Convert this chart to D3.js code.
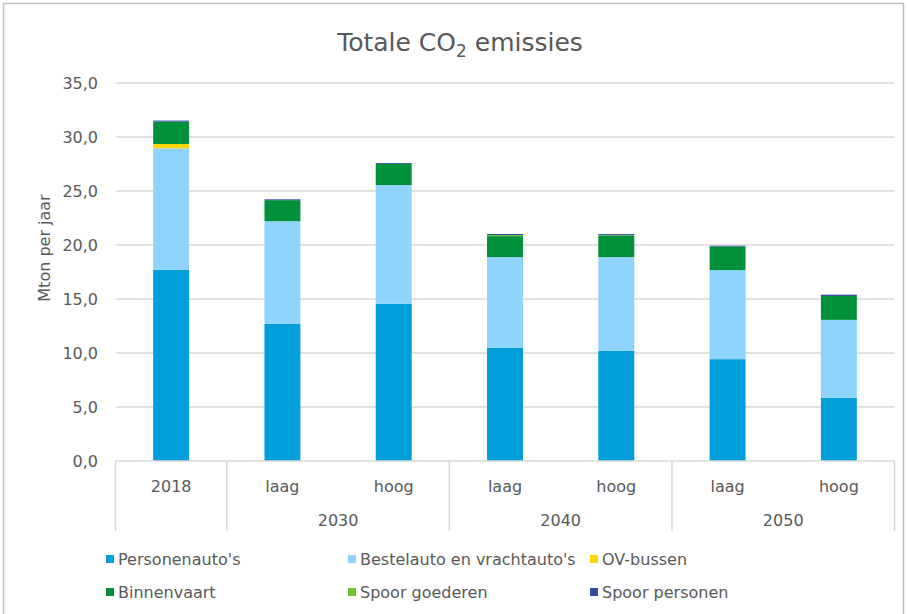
<!DOCTYPE html>
<html><head><meta charset="utf-8">
<script src="https://cdn.jsdelivr.net/npm/d3@7"></script>
<style>body{margin:0;background:#fff}svg{display:block}text{font-family:"DejaVu Sans",sans-serif;fill:#595959}</style>
</head><body>
<svg id="c" width="907" height="614"></svg>
<script>
const categories = ["2018","laag","hoog","laag","hoog","laag","hoog"];
const groups = [{label:"", from:0, to:0},{label:"2030", from:1, to:2},{label:"2040", from:3, to:4},{label:"2050", from:5, to:6}];
const seriesNames = ["Personenauto's","Bestelauto en vrachtauto's","OV-bussen","Binnenvaart","Spoor goederen","Spoor personen"];
const colors = ["#009FDA","#8FD3FF","#FFD700","#00913A","#6CC630","#2F4B9B"];
const personen = [17.7, 12.7, 14.55, 10.48, 10.2, 9.43, 5.86];
const bestel = [11.25, 9.5, 11.0, 8.4, 8.68, 8.25, 7.21];
const ovBussen = [0.4, 0, 0, 0, 0, 0, 0];
const binnenvaart = [2.05, 1.95, 1.95, 1.94, 2.0, 2.18, 2.21];
const spoorGoederen = [0.02, 0.0, 0.0, 0.1, 0.03, 0.0, 0.0];
const spoorPersonen = [0.1, 0.08, 0.08, 0.1, 0.1, 0.07, 0.12];
const yTicks = [0,5,10,15,20,25,30,35];

const svg = d3.select("#c");
svg.append("rect").attr("x",3.5).attr("y",3.5).attr("width",900).attr("height",640)
  .attr("fill","#fff").attr("stroke","#bfbfbf").attr("stroke-width",1.5);

const pLeft = 115.5, pRight = 894.5, pTop = 83, pBottom = 461;
const x = d3.scaleBand().domain(d3.range(categories.length)).range([pLeft,pRight]).paddingInner(0.677).paddingOuter(0.3385);
const y = d3.scaleLinear().domain([0,35]).range([pBottom,pTop]);

// gridlines
svg.append("g").selectAll("line").data(yTicks.filter(t=>t>0)).join("line")
  .attr("x1",pLeft).attr("x2",pRight).attr("y1",d=>y(d)).attr("y2",d=>y(d))
  .attr("stroke","#d9d9d9").attr("stroke-width",1.5);

// y axis labels
const yAxis = d3.axisLeft(y).tickValues(yTicks).tickSize(0).tickPadding(0)
  .tickFormat(d=>d3.format(".1f")(d).replace(".",","));
const ya = svg.append("g").attr("transform",`translate(98,0)`).call(yAxis);
ya.select(".domain").remove();
ya.selectAll("text").attr("font-size",16).attr("fill","#595959")
  .style("font-family",'"DejaVu Sans",sans-serif');

// stacked bars
const data = categories.map((c,i)=>({i, s0:personen[i], s1:bestel[i], s2:ovBussen[i], s3:binnenvaart[i], s4:spoorGoederen[i], s5:spoorPersonen[i]}));
const stack = d3.stack().keys(["s0","s1","s2","s3","s4","s5"]);
const layers = stack(data);
svg.append("g").selectAll("g").data(layers).join("g").attr("fill",(d,k)=>colors[k])
  .selectAll("rect").data(d=>d).join("rect")
  .attr("x",d=>x(d.data.i)).attr("width",x.bandwidth())
  .attr("y",d=>y(d[1])).attr("height",d=>Math.max(0,y(d[0])-y(d[1])));

// category axis
const ax = svg.append("g");
ax.append("line").attr("x1",pLeft).attr("x2",pRight).attr("y1",pBottom).attr("y2",pBottom).attr("stroke","#d9d9d9").attr("stroke-width",1.5);
const step = x.step();
const sepIdx = [0,1,3,5,7];
ax.selectAll("line.sep").data(sepIdx).join("line").attr("class","sep")
  .attr("x1",d=>pLeft+d*step).attr("x2",d=>pLeft+d*step).attr("y1",pBottom).attr("y2",531)
  .attr("stroke","#d9d9d9").attr("stroke-width",1.5);
ax.selectAll("text.cat").data(categories).join("text").attr("class","cat")
  .attr("x",(d,i)=>x(i)+x.bandwidth()/2).attr("y",492).attr("text-anchor","middle").attr("font-size",16).text(d=>d);
ax.selectAll("text.grp").data(groups.filter(g=>g.label)).join("text").attr("class","grp")
  .attr("x",g=>(x(g.from)+x(g.to)+x.bandwidth())/2).attr("y",526).attr("text-anchor","middle").attr("font-size",16).text(g=>g.label);

// title
const t = svg.append("text").attr("x",460).attr("y",51).attr("text-anchor","middle").attr("font-size",25);
t.append("tspan").text("Totale CO");
t.append("tspan").attr("font-size",17).attr("dy",6).text("2");
t.append("tspan").attr("dy",-6).text(" emissies");

// y title
svg.append("text").attr("transform","translate(50,248) rotate(-90)").attr("text-anchor","middle").attr("font-size",16).text("Mton per jaar");

// legend
const legX = [106,348,590], legY = [559,592];
const lg = svg.append("g").selectAll("g").data(seriesNames).join("g")
  .attr("transform",(d,k)=>`translate(${legX[k%3]},${legY[Math.floor(k/3)]})`);
lg.append("rect").attr("x",0).attr("y",-4).attr("width",8).attr("height",8).attr("fill",(d,k)=>colors[k]);
lg.append("text").attr("x",12).attr("y",6).attr("font-size",16).text(d=>d);
</script>
</body></html>
